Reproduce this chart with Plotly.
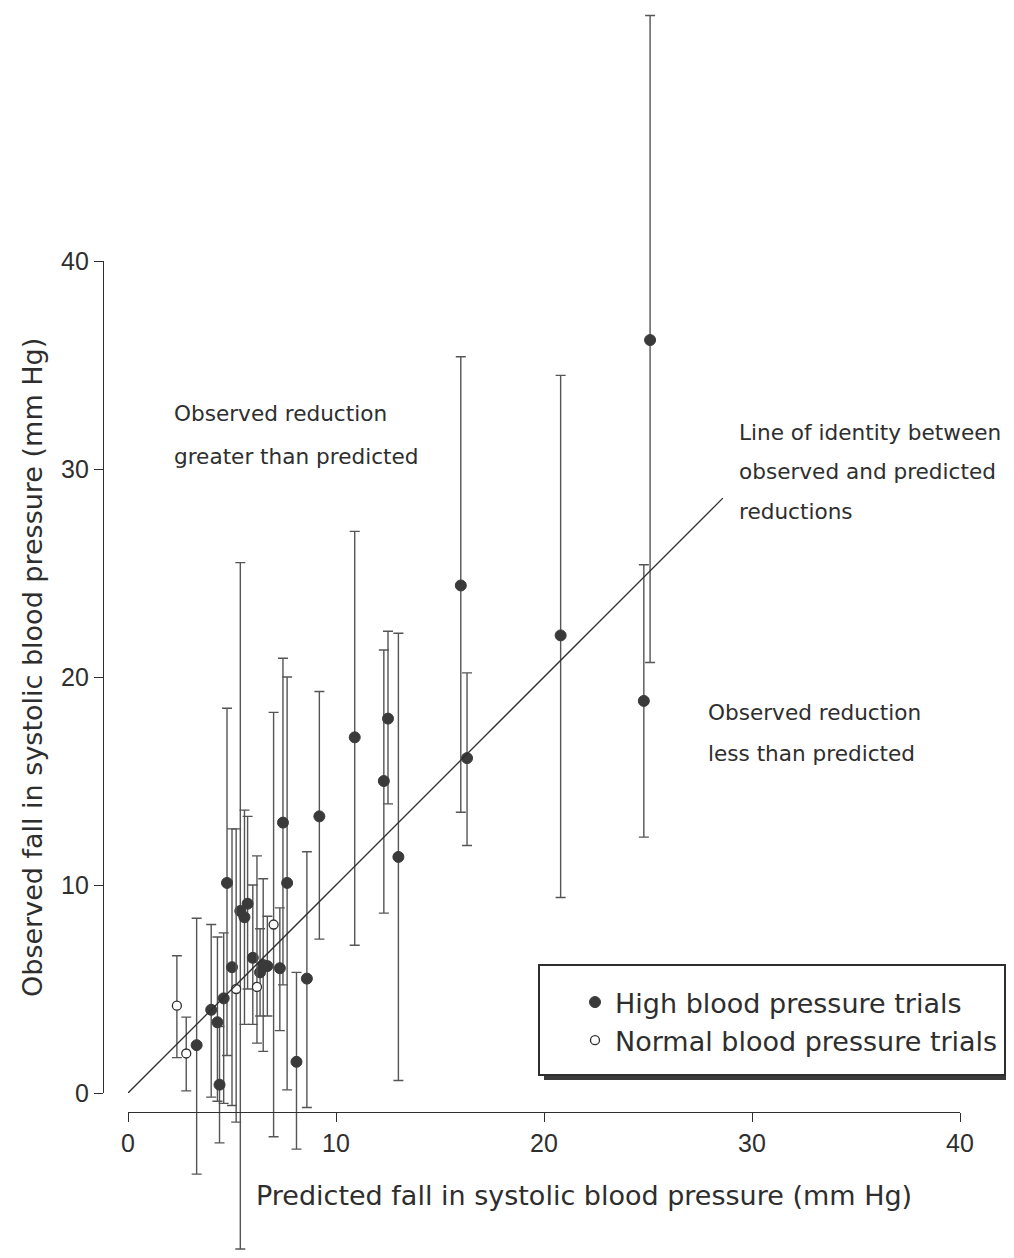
import plotly.graph_objects as go

# High blood pressure trials (filled)
hi_x = [25.1, 24.8, 20.8, 16.0, 16.3, 12.3, 12.5, 13.0, 10.9, 9.2, 8.6, 8.1, 7.65, 7.45,
        7.3, 6.7, 6.5, 6.35, 6.0, 5.75, 5.6, 5.4, 5.0, 4.76, 4.6, 4.4, 4.3, 4.0, 3.3]
hi_y = [36.2, 18.85, 22.0, 24.4, 16.1, 15.0, 18.0, 11.35, 17.1, 13.3, 5.5, 1.5, 10.1, 13.0,
        6.0, 6.1, 6.15, 5.8, 6.5, 9.1, 8.45, 8.75, 6.05, 10.1, 4.55, 0.4, 3.4, 4.0, 2.3]
hi_lo = [20.7, 12.3, 9.4, 13.5, 11.9, 8.65, 13.9, 0.6, 7.1, 7.4, -0.7, -2.7, 0.15, 5.2,
         3.0, 3.7, 2.0, 3.7, 3.3, 5.0, 3.3, -7.5, -0.6, 1.8, -0.5, -2.4, -0.4, -0.2, -3.9]
hi_hi = [51.8, 25.4, 34.5, 35.4, 20.2, 21.3, 22.2, 22.1, 27.0, 19.3, 11.6, 5.8, 20.0, 20.9,
         8.9, 8.5, 10.3, 7.9, 10.0, 13.3, 13.6, 25.5, 12.7, 18.5, 7.7, 3.2, 7.5, 8.1, 8.4]

# Normal blood pressure trials (open)
no_x = [2.35, 2.8, 5.2, 6.2, 7.0]
no_y = [4.2, 1.9, 5.0, 5.1, 8.1]
no_lo = [1.7, 0.1, -1.4, 2.4, -2.1]
no_hi = [6.6, 3.65, 12.7, 11.4, 18.3]

identity = [0, 28.6]
ticks = [0, 10, 20, 30, 40]

OFF = 8                      # page body margin
W, H = 1014 - 2 * OFF, 1258 - 2 * OFF
S = 20.8                     # px per unit
X0, Y0 = 128 - OFF, 1093 - OFF   # figure pixel of (0,0)
FONT = "Liberation Sans, Arial, Helvetica, sans-serif"
WIDE = "DejaVu Sans, Verdana, sans-serif"
INK = "#2e2e2e"
BAR = "#555555"


def px(x):
    return (x - OFF) / W


def py(y):
    return 1 - (y - OFF) / H


def err(y, lo, hi):
    return dict(type="data", symmetric=False,
                array=[h - v for v, h in zip(y, hi)],
                arrayminus=[v - l for v, l in zip(y, lo)],
                color=BAR, thickness=1.4, width=5)


fig = go.Figure()
fig.add_trace(go.Scatter(
    x=identity, y=identity, mode="lines", xaxis="x2", yaxis="y2",
    line=dict(color=INK, width=1.3), showlegend=False, hoverinfo="skip"))
fig.add_trace(go.Scatter(
    x=hi_x, y=hi_y, mode="markers", name="High blood pressure trials",
    marker=dict(symbol="circle", size=11, color="#3a3a3a", line=dict(color="#3a3a3a", width=1)),
    error_y=err(hi_y, hi_lo, hi_hi)))
fig.add_trace(go.Scatter(
    x=no_x, y=no_y, mode="markers", name="Normal blood pressure trials",
    marker=dict(symbol="circle", size=9, color="white", line=dict(color=INK, width=1.3)),
    error_y=err(no_y, no_lo, no_hi)))

# legend box with shadow
fig.add_shape(type="rect", xref="paper", yref="paper",
              x0=px(544), x1=px(1010), y0=py(1080), y1=py(969),
              fillcolor="#3a3a3a", line=dict(width=0), layer="below")
fig.add_shape(type="rect", xref="paper", yref="paper",
              x0=px(539), x1=px(1005), y0=py(1075), y1=py(965),
              fillcolor="white", line=dict(color=INK, width=2), layer="below")

axis_common = dict(showline=True, linecolor=INK, linewidth=1.3,
                   ticks="outside", ticklen=9, tickcolor=INK, tickwidth=1.3,
                   tickvals=ticks, ticktext=[str(t) for t in ticks],
                   tickfont=dict(size=25, family=FONT, color=INK),
                   showgrid=False, zeroline=False, automargin=False, fixedrange=True)

fig.update_layout(
    template="none",
    width=W, height=H, margin=dict(l=0, r=0, t=0, b=0, pad=0, autoexpand=False),
    paper_bgcolor="white", plot_bgcolor="rgba(0,0,0,0)",
    font=dict(family=FONT, color=INK),
    xaxis=dict(domain=[0, 1], range=[-X0 / S, (W - X0) / S], visible=False,
               fixedrange=True, automargin=False),
    yaxis=dict(domain=[0, 1], range=[(Y0 - H) / S, Y0 / S], visible=False,
               fixedrange=True, automargin=False),
    xaxis2=dict(domain=[X0 / W, (X0 + 40 * S) / W], range=[0, 40], anchor="free",
                position=py(1112), **axis_common),
    yaxis2=dict(domain=[1 - Y0 / H, 1 - (Y0 - 40 * S) / H], range=[0, 40], anchor="free",
                position=px(103), **axis_common),
    legend=dict(x=px(575), y=py(978), xanchor="left", yanchor="top",
                bgcolor="rgba(0,0,0,0)", borderwidth=0,
                font=dict(size=27, family=WIDE, color=INK),
                itemwidth=30, tracegroupgap=0),
    showlegend=True,
)

ann = dict(xref="paper", yref="paper", showarrow=False, align="left",
           xanchor="left", yanchor="middle", font=dict(size=21.6, family=WIDE, color=INK))
notes = [
    (172, 413, "Observed reduction"), (172, 456, "greater than predicted"),
    (737, 433, "Line of identity between"), (737, 471, "observed and predicted"),
    (737, 511, "reductions"),
    (706, 712, "Observed reduction"), (706, 753, "less than predicted"),
]
for nx, ny, txt in notes:
    fig.add_annotation(x=px(nx), y=py(ny), text=txt, **ann)

fig.add_annotation(x=px(584), y=py(1195), xref="paper", yref="paper", showarrow=False,
                   xanchor="center", yanchor="middle",
                   text="Predicted fall in systolic blood pressure (mm Hg)",
                   font=dict(size=27, family=WIDE, color=INK))
fig.add_annotation(x=px(32), y=py(668), xref="paper", yref="paper", showarrow=False,
                   xanchor="center", yanchor="middle",
                   textangle=-90, text="Observed fall in systolic blood pressure (mm Hg)",
                   font=dict(size=27, family=WIDE, color=INK))

fig.write_html("out.html")
